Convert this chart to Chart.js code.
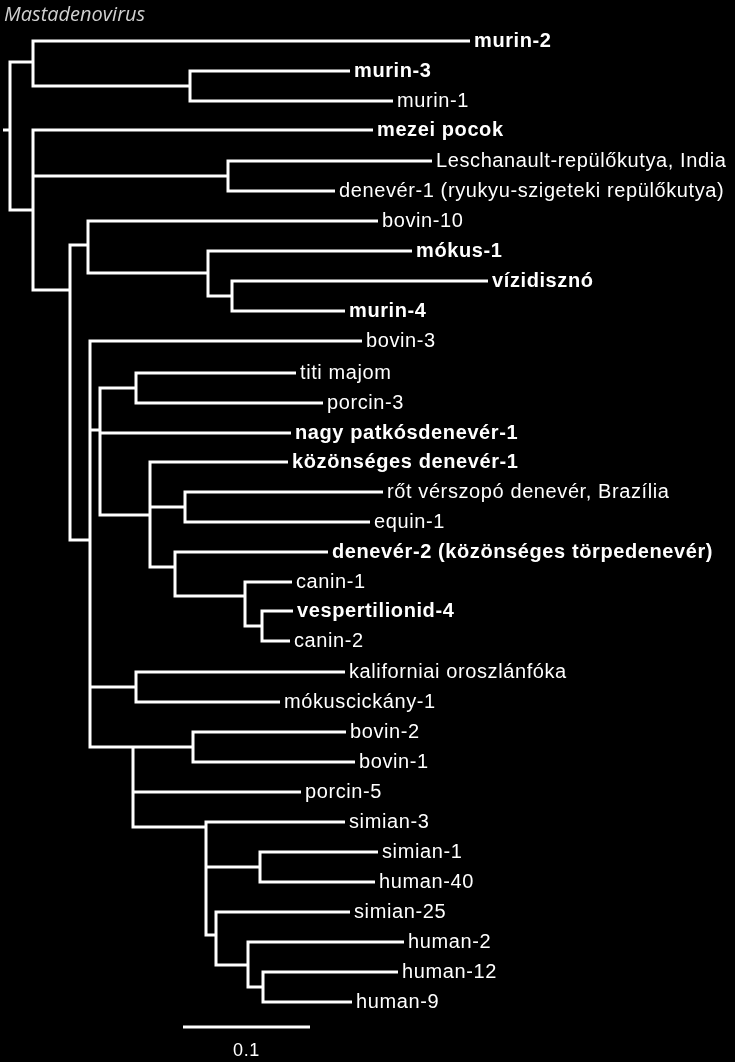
<!DOCTYPE html>
<html><head><meta charset="utf-8">
<script src="https://cdn.jsdelivr.net/npm/chart.js@4/dist/chart.umd.min.js"></script>
<style>html,body{margin:0;padding:0;background:#000;}#w{width:735px;height:1062px;}</style>
</head><body><div id="w"><canvas id="c"></canvas></div>
<script>
// leaves: name, y (row), tip x (branch length units), parent node x, bold
const leafNames=["murin-2","murin-3","murin-1","mezei pocok","Leschanault-repülőkutya, India","denevér-1 (ryukyu-szigeteki repülőkutya)","bovin-10","mókus-1","vízidisznó","murin-4","bovin-3","titi majom","porcin-3","nagy patkósdenevér-1","közönséges denevér-1","rőt vérszopó denevér, Brazília","equin-1","denevér-2 (közönséges törpedenevér)","canin-1","vespertilionid-4","canin-2","kaliforniai oroszlánfóka","mókuscickány-1","bovin-2","bovin-1","porcin-5","simian-3","simian-1","human-40","simian-25","human-2","human-12","human-9"];
const leafY=[41,71,101,130,161,191,221,251,281,311,341,373,403,433,462,492,522,552,582,611,641,672,702,732,762,792,822,852,882,912,942,972,1002];
const leafTip=[470,350,393,373,432,335,378,412,488,345,362,296,323,291,288,383,370,328,292,293,290,345,280,346,355,301,345,378,375,350,404,398,352];
const leafParentX=[33,190,190,33,228,228,88,208,232,232,90,136,136,100,150,185,185,175,245,262,262,136,136,193,193,133,206,260,260,216,248,263,263];
const leafBold=[1,1,0,1,0,0,0,1,1,1,0,0,0,1,1,0,0,1,0,1,0,0,0,0,0,0,0,0,0,0,0,0,0];
// internal nodes: x, span top, span bottom, parent x, attach y
const nodeX=[10,33,190,33,228,70,88,208,232,90,100,136,150,185,175,245,262,136,133,193,206,260,216,248,263];
const nodeTop=[62,41,71,130,161,245,221,251,281,341,388,373,462,492,552,582,611,672,747,732,822,852,912,942,972];
const nodeBot=[210,86,101,290,191,540,273,296,311,747,515,403,567,522,596,626,641,702,827,762,935,882,965,987,1002];
const nodeParentX=[3,10,33,10,33,33,70,88,208,70,90,100,100,150,150,175,245,90,90,133,133,206,206,216,248];
const nodeAttachY=[130,62,86,210,176,290,245,273,296,540,430,388,515,507,567,596,626,687,747,747,827,867,935,965,987];
const scaleBar=[183,310,1027], scaleLabel="0.1", title="Mastadenovirus";

const pts=[];
function seg(x0,y0,x1,y1){pts.push({x:x0,y:y0},{x:x1,y:y1},{x:null,y:null});}
leafNames.forEach((n,i)=>seg(leafParentX[i],leafY[i],leafTip[i],leafY[i]));
nodeX.forEach((x,i)=>{seg(x,nodeTop[i]-1.5,x,nodeBot[i]+1.5);seg(nodeParentX[i],nodeAttachY[i],x,nodeAttachY[i]);});
seg(scaleBar[0],scaleBar[2],scaleBar[1],scaleBar[2]);

const labels={id:'labels',afterDatasetsDraw(ch){
  const c=ch.ctx,xs=ch.scales.x,ys=ch.scales.y;
  c.save();c.fillStyle='#fff';c.textBaseline='middle';c.letterSpacing='0.6px';
  leafNames.forEach((n,i)=>{
    c.font=(leafBold[i]?'bold ':'')+'20px "Liberation Sans", Arial, sans-serif';
    c.fillText(n,xs.getPixelForValue(leafTip[i])+4,ys.getPixelForValue(leafY[i]));
  });
  c.font='18px "Liberation Sans", Arial, sans-serif';c.textAlign='center';
  c.fillText(scaleLabel,xs.getPixelForValue((scaleBar[0]+scaleBar[1])/2),ys.getPixelForValue(1051));
  c.letterSpacing='0px';
  c.textAlign='left';c.fillStyle='#d0d0d0';c.font='italic 20px "Open Sans", "DejaVu Sans", sans-serif';
  c.fillText(title,xs.getPixelForValue(4),ys.getPixelForValue(15));
  c.restore();
}};
new Chart(document.getElementById('c'),{type:'scatter',
 data:{datasets:[{data:pts,showLine:true,spanGaps:false,borderColor:'#fff',borderWidth:3,pointRadius:0,borderCapStyle:'butt'}]},
 options:{responsive:true,maintainAspectRatio:false,animation:false,layout:{padding:0},
  plugins:{legend:{display:false},tooltip:{enabled:false}},
  scales:{x:{type:'linear',min:0,max:735,display:false},y:{type:'linear',min:0,max:1062,reverse:true,display:false}}},
 plugins:[labels]});
</script></body></html>
